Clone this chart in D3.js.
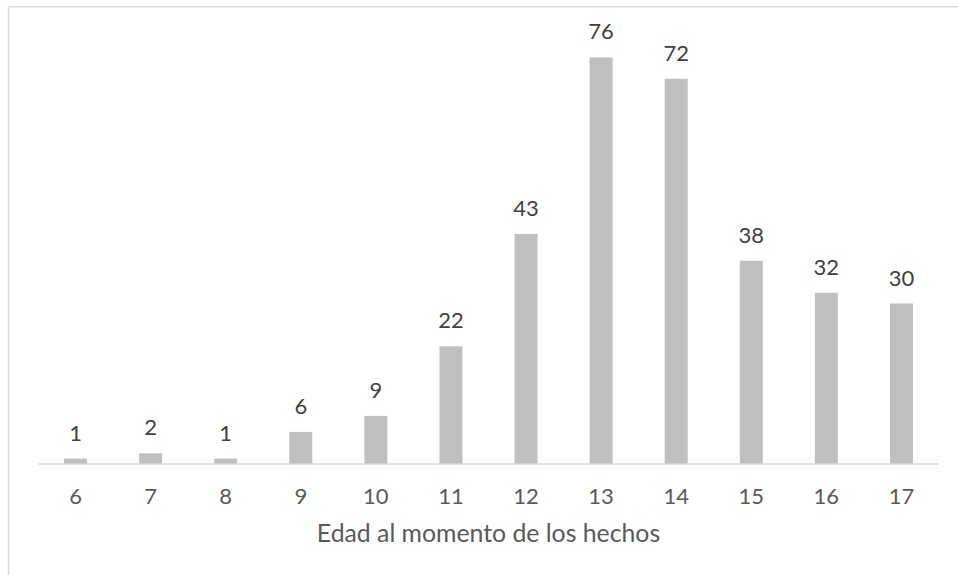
<!DOCTYPE html>
<html>
<head>
<meta charset="utf-8">
<script src="https://cdn.jsdelivr.net/npm/d3@7/dist/d3.min.js"></script>
<style>
  html, body { margin: 0; padding: 0; background: #fff; }
  svg { display: block; }
</style>
</head>
<body>
<svg id="chart" width="958" height="575"></svg>
<script>
const categories = ["6", "7", "8", "9", "10", "11", "12", "13", "14", "15", "16", "17"];
const values = [1, 2, 1, 6, 9, 22, 43, 76, 72, 38, 32, 30];
const yDomainMax = 80;
const xAxisTitle = "Edad al momento de los hechos";

const svg = d3.select("#chart");
const W = 958, H = 575;
const plot = { left: 38, right: 939, top: 36, bottom: 464 };
const font = "Lato, Carlito, 'Open Sans', sans-serif";

// outer border (only top and left visible in frame)
svg.append("rect")
  .attr("x", 8.5).attr("y", 6.75)
  .attr("width", W + 50).attr("height", H + 50)
  .attr("fill", "none")
  .attr("stroke", "#d9d9d9")
  .attr("stroke-width", 1.5);

const x = d3.scaleBand()
  .domain(categories)
  .range([plot.left, plot.right])
  .paddingInner(0.694)
  .paddingOuter(0.347);

const y = d3.scaleLinear()
  .domain([0, yDomainMax])
  .range([plot.bottom, plot.top]);

const data = categories.map((c, i) => ({ c, v: values[i] }));

// bars
svg.append("g").selectAll("rect")
  .data(data).join("rect")
  .attr("x", d => x(d.c))
  .attr("y", d => y(d.v))
  .attr("width", x.bandwidth())
  .attr("height", d => y(0) - y(d.v))
  .attr("fill", "#bfbfbf");

// x axis
const xAxis = d3.axisBottom(x).tickSize(0).tickPadding(0);
const gx = svg.append("g")
  .attr("transform", `translate(0,${plot.bottom})`)
  .call(xAxis);
gx.select(".domain")
  .attr("d", `M${plot.left},0H${plot.right}`)
  .attr("stroke", "#d9d9d9")
  .attr("stroke-width", 1.5);
gx.selectAll(".tick text")
  .attr("y", 39.5)
  .attr("dy", null)
  .attr("font-family", font)
  .attr("font-size", 22)
  .attr("fill", "#595959");

// value labels
svg.append("g").selectAll("text")
  .data(data).join("text")
  .attr("x", d => x(d.c) + x.bandwidth() / 2)
  .attr("y", d => y(d.v) - 18)
  .attr("text-anchor", "middle")
  .attr("font-family", font)
  .attr("font-size", 22)
  .attr("fill", "#404040")
  .text(d => d.v);

// axis title
svg.append("text")
  .attr("x", (plot.left + plot.right) / 2)
  .attr("y", 541.5)
  .attr("text-anchor", "middle")
  .attr("font-family", font)
  .attr("font-size", 24.8)
  .attr("fill", "#595959")
  .text(xAxisTitle);
</script>
</body>
</html>
